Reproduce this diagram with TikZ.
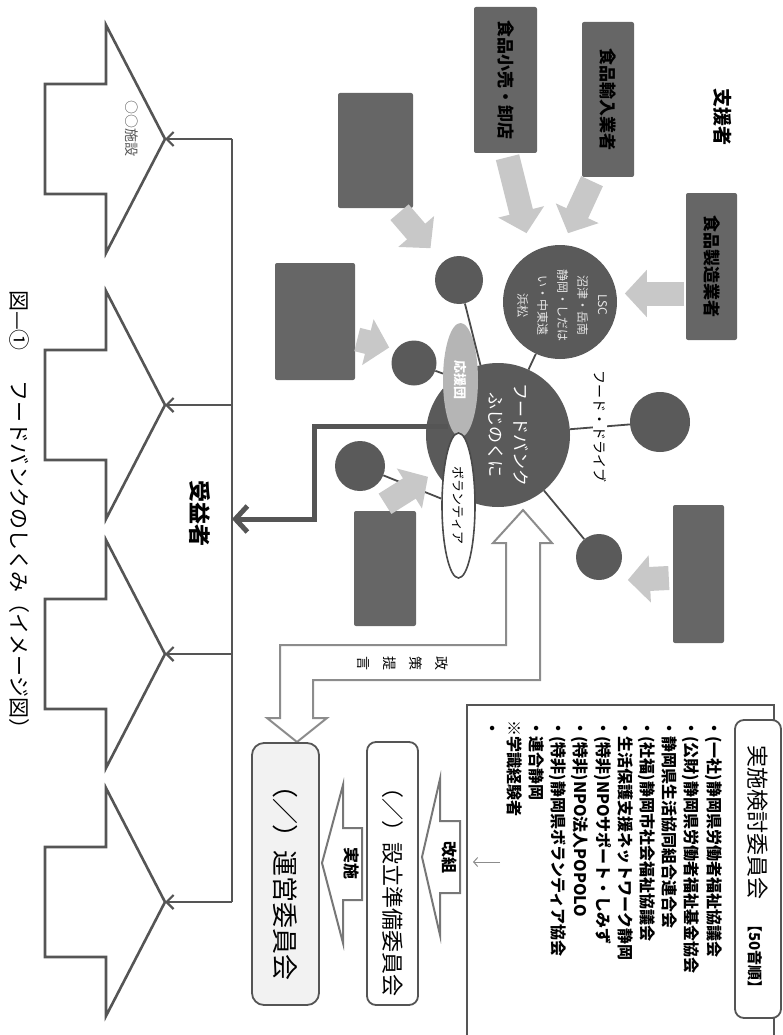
\documentclass[tikz,border=0pt]{standalone}
\usepackage{fontspec}
\setmainfont{Noto Sans CJK JP}
\usetikzlibrary{arrows.meta, shapes.geometric}
\definecolor{boxgrey}{HTML}{666666}
\definecolor{dotgrey}{HTML}{5A5A5A}
\definecolor{feedgrey}{HTML}{C8C8C8}
\definecolor{oengrey}{HTML}{B5B5B5}
\definecolor{linkgrey}{HTML}{4A4A4A}
\definecolor{framegrey}{HTML}{555555}
\definecolor{hollowgrey}{HTML}{8C8C8C}
\definecolor{lightpanel}{HTML}{F2F2F2}

\tikzset{
  vtext/.style={rotate=-90, inner sep=0pt},
  donor/.style={rotate=-90, fill=boxgrey, rounded corners=2pt, inner sep=0pt,
    font=\bfseries\fontsize{17}{20}\selectfont},
  dot/.style={circle, fill=dotgrey, inner sep=0pt},
  link/.style={draw=linkgrey, line width=1.8pt},
  feed/.style={feedgrey, line width=24pt, -{Triangle[length=22pt,width=46pt]}},
  branch/.style={framegrey, line width=2.2pt, -{Straight Barb[length=7pt,width=14pt]}},
  benefit/.style={framegrey, line width=5pt, -{Straight Barb[length=12pt,width=26pt]}},
  target/.style={draw=framegrey, line width=2.6pt, fill=white},
  hollow/.style={draw=hollowgrey, line width=2pt, fill=white},
  panel/.style={rotate=-90, draw=framegrey, line width=1.8pt, rounded corners=9pt, inner sep=0pt},
}

\begin{document}
\begin{tikzpicture}[x=1pt, y=-1pt]
\useasboundingbox (0,0) rectangle (782,1035);
\clip (0,0) rectangle (782,1035);

% beneficiaries
\coordinate (tip1) at (165,139);
\coordinate (tip2) at (165,405);
\coordinate (tip3) at (165,654);
\coordinate (tip4) at (165,902);
\draw[target] (45,84) -- (106,84) -- (106,25) -- (tip1) -- (106,253) -- (106,194) -- (45,194) -- cycle;
\draw[target] (45,350) -- (106,350) -- (106,291) -- (tip2) -- (106,519) -- (106,460) -- (45,460) -- cycle;
\draw[target] (45,599) -- (106,599) -- (106,540) -- (tip3) -- (106,768) -- (106,709) -- (45,709) -- cycle;
\draw[target] (45,847) -- (106,847) -- (106,788) -- (tip4) -- (106,1016) -- (106,957) -- (45,957) -- cycle;
\node[vtext, anchor=west, text=framegrey, font=\fontsize{14}{14}\selectfont] (shisetsu) at (132,100) {○○施設};

\coordinate (j1) at (232,139);
\coordinate (j2) at (232,405);
\coordinate (j3) at (232,654);
\coordinate (j4) at (232,902);
\coordinate (recv) at (232,519);
\draw[framegrey, line width=2.4pt] (j1) -- (j4);
\draw[branch] (j1) -- (tip1);
\draw[branch] (j2) -- (tip2);
\draw[branch] (j3) -- (tip3);
\draw[branch] (j4) -- (tip4);
\node[vtext, anchor=west, font=\bfseries\fontsize{22}{22}\selectfont] (juekisha) at (200,480) {受益者};

\node[vtext, anchor=west, font=\fontsize{21}{21}\selectfont] (caption) at (19,290)
  {図—①\hspace{30pt}フードバンクのしくみ（イメージ図）};

% supporters
\node[vtext, anchor=west, font=\bfseries\fontsize{19}{19}\selectfont] (shienlbl) at (723,88) {支援者};
\node[donor, minimum width=146pt, minimum height=63pt] (kouri) at (505.5,80) {食品小売・卸店};
\node[donor, minimum width=155pt, minimum height=52pt] (yunyu) at (608,99.5) {食品輸入業者};
\node[donor, minimum width=147pt, minimum height=51pt] (seizo) at (711.5,266.5) {食品製造業者};
\node[donor, minimum width=115pt, minimum height=75pt] (boxa) at (375.5,150.5) {};
\node[donor, minimum width=117pt, minimum height=80pt] (boxb) at (315,321.5) {};
\node[donor, minimum width=115pt, minimum height=62pt] (boxc) at (385,568.5) {};
\node[donor, minimum width=138pt, minimum height=51pt] (boxd) at (698.5,574) {};

% policy proposal
\draw[hollow] (523,510) -- (552,543) -- (540,543) -- (540,680) -- (313,680) -- (313,718)
  -- (327,718) -- (297,742) -- (267,718) -- (280,718) -- (280,645) -- (506,645)
  -- (506,543) -- (493,543) -- cycle;
\node[vtext, align=center, font=\fontsize{14}{26}\selectfont] (teigen) at (402.5,663) {政\\策\\提\\言};

% hubs
\node[dot, minimum size=114pt] (lsc) at (560,302) {};
\node[dot, minimum size=144pt] (fb) at (498,435) {};
\node[dot, minimum size=48pt] (c2) at (459,280) {};
\node[dot, minimum size=45pt] (c1) at (414,363) {};
\node[dot, minimum size=50pt] (c3) at (360,466) {};
\node[dot, minimum size=60pt] (c4) at (660,422) {};
\node[dot, minimum size=46pt] (c5) at (599,557) {};
\node[vtext, align=center, text=white!90!black, font=\fontsize{12}{20}\selectfont] (lsctext) at (562,305)
  {LSC\\沼津・岳南\\静岡・しだは\\い・中東遠\\浜松};
\node[vtext, align=center, text=white, font=\fontsize{17}{25}\selectfont] (fbtext) at (508,435)
  {フードバンク\\ふじのくに};

\node[ellipse, rotate=-90, fill=oengrey, minimum width=114pt, minimum height=35pt, inner sep=0pt,
  text=white, font=\bfseries\fontsize{13}{13}\selectfont] (oen) at (460.5,380) {応援団};
\node[ellipse, rotate=-90, draw=linkgrey, line width=1.6pt, fill=white, minimum width=145pt,
  minimum height=33pt, inner sep=0pt, font=\fontsize{13}{13}\selectfont] (vol) at (458.5,505.5) {ボランティア};

\draw[benefit] ([shift={(-11,-6)}]vol.west) -- ++(-133,0) |- (recv);

\draw[link] (fb) -- (lsc);
\draw[link] (fb) -- (c2);
\draw[link] (c1) -- (oen);
\draw[link] (c3) -- (vol);
\draw[link] (fb) -- node[vtext, fill=white, inner sep=1pt, font=\fontsize{14}{14}\selectfont] (drive) {フード・ドライブ} (c4);
\draw[link] (fb) -- (c5);

\draw[feed] ([shift={(-2,27)}]seizo.south) -- ++(-59,0);
\draw[feed] ([shift={(-16,4)}]yunyu.east) -- ++(-24,52);
\draw[feed] ([shift={(2,4)}]kouri.east) -- ++(19,76);
\draw[feed] ([shift={(24,4)}]boxa.east) -- ++(31,36);
\draw[feed] ([shift={(2,18)}]boxb.north) -- ++(32,8);
\draw[feed] ([shift={(0,-7)}]boxc.west) -- ++(43,-27);
\draw[feed] ([shift={(-4,4)}]boxd.south) -- ++(-41,2);

% committees
\draw[framegrey, line width=1.6pt] (467,705) rectangle (774,1045);
\node[panel, fill=white, minimum width=298pt, minimum height=46pt] (kentou) at (758,869) {};
\node[vtext, anchor=west] (kentoutext) at (758,745)
  {{\fontsize{22}{22}\selectfont 実施検討委員会}\hspace{18pt}{\bfseries\fontsize{15}{15}\selectfont【50音順】}};
\node[vtext, anchor=north west, align=left, font=\bfseries\fontsize{16}{22.2}\selectfont] (members) at (722,720)
  {・(一社)静岡県労働者福祉協議会\\
   ・(公財)静岡県労働者福祉基金協会\\
   ・静岡県生活協同組合連合会\\
   ・(社福)静岡市社会福祉協議会\\
   ・生活保護支援ネットワーク静岡\\
   ・(特非)NPOサポート・しみず\\
   ・(特非)NPO法人POPOLO\\
   ・(特非)静岡県ボランティア協会\\
   ・連合静岡\\
   ※学識経験者\\
   ・};
\coordinate (hint) at (500,862);
\draw[hollowgrey, line width=1pt, -{Straight Barb[length=4pt,width=9pt]}] (hint) -- ++(-27,0);

\draw[hollow, draw=framegrey!80] (422,857) -- (440,779) -- (440,821) -- (460,821) -- (460,893)
  -- (440,893) -- (440,935) -- cycle;
\node[vtext, font=\bfseries\fontsize{16}{16}\selectfont] (kaiso) at (450,857) {改組};

\node[panel, fill=white, minimum width=263pt, minimum height=51pt] (junbi) at (392.5,873.5) {};
\node[vtext, anchor=west, font=\fontsize{22}{22}\selectfont] (junbitext) at (393,776) {（／）設立準備委員会};

\draw[hollow, draw=framegrey!80] (322,863) -- (343,785) -- (343,828) -- (362,828) -- (362,900)
  -- (343,900) -- (343,943) -- cycle;
\node[vtext, font=\bfseries\fontsize{16}{16}\selectfont] (jisshi) at (352,863) {実施};

\node[panel, fill=lightpanel, rounded corners=12pt, minimum width=262pt, minimum height=67pt] (unei) at (285.5,874) {};
\node[vtext, anchor=west, font=\fontsize{26}{26}\selectfont] (ueitext) at (285.5,772) {（／）運営委員会};
\end{tikzpicture}
\end{document}
